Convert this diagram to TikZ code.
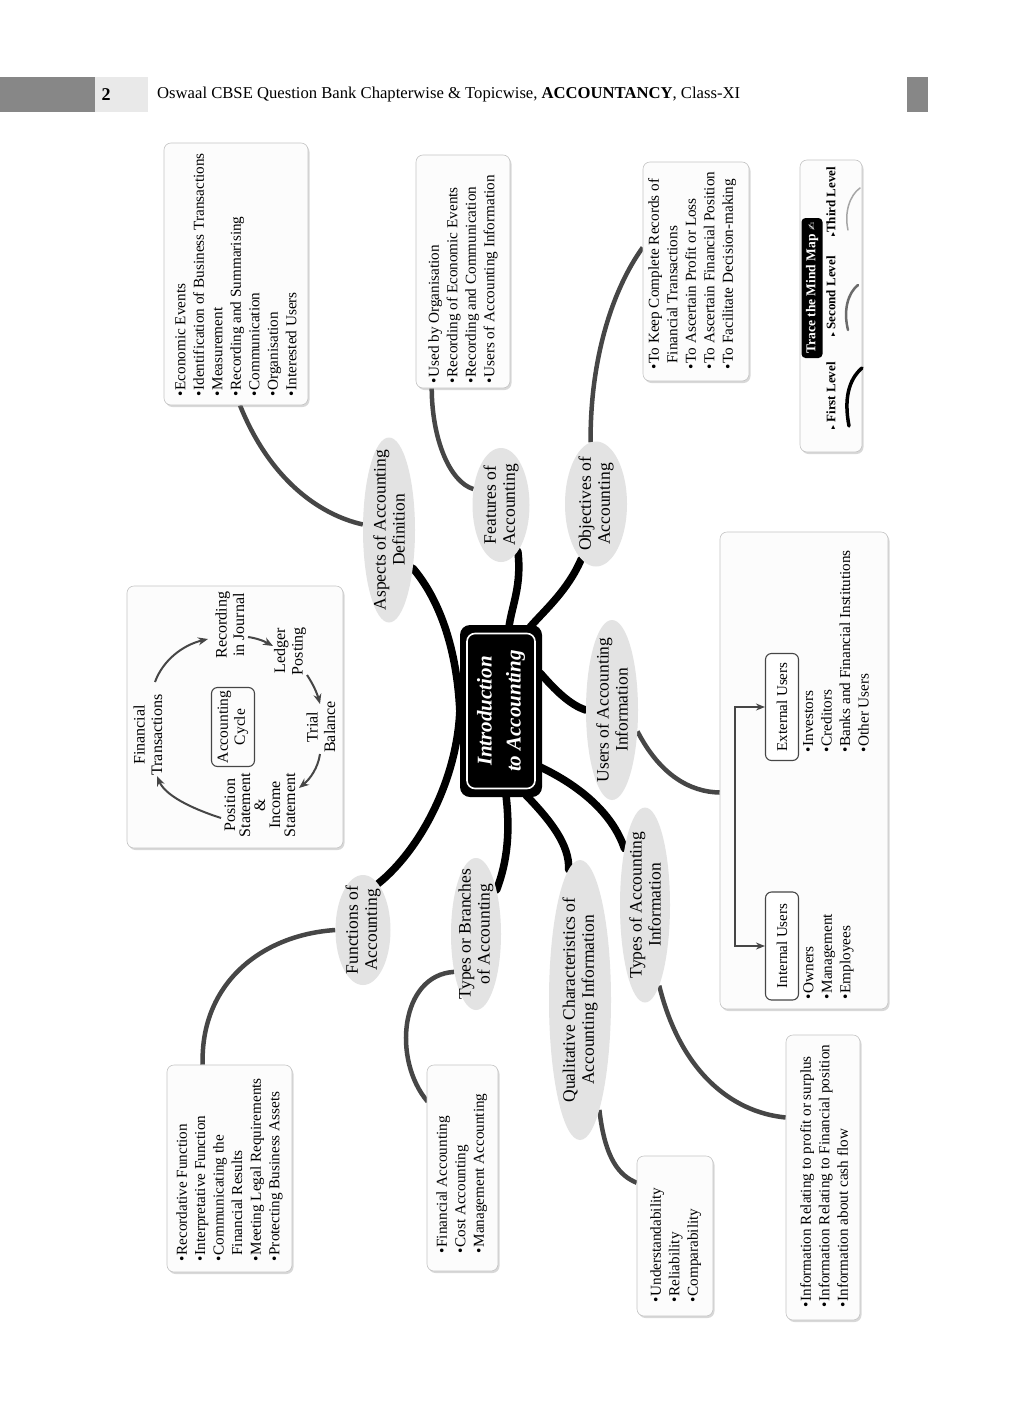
\documentclass[tikz,border=0pt]{standalone}
\usepackage{fontspec}
\usepackage{graphicx}
\setmainfont{Liberation Serif}
\newfontfamily\dejavu{DejaVu Sans}
\usetikzlibrary{shapes.geometric,arrows.meta,shadows,calc}
\pgfdeclarelayer{bg}
\pgfsetlayers{bg,main}
\definecolor{ellg}{HTML}{E3E3E3}
\definecolor{boxf}{HTML}{FCFCFC}
\definecolor{boxd}{HTML}{C4C4C4}
\definecolor{con}{HTML}{464646}
\definecolor{hdrd}{HTML}{878787}
\definecolor{hdrl}{HTML}{E9E9E9}
\newcommand{\mybul}{\textbullet\hspace{1pt}}
\newcommand{\myind}{\phantom{\textbullet}\hspace{1pt}}
\begin{document}
\begin{tikzpicture}[x=1pt,y=-1pt,
  ell/.style={ellipse, fill=ellg, inner sep=0pt},
  etext/.style={rotate=90, align=center, inner sep=0pt, font=\fontsize{17.5}{19}\selectfont},
  lbox/.style={draw=boxd, fill=boxf, rounded corners=7pt, line width=0.6pt, drop shadow={opacity=0.3, shadow xshift=1.5pt, shadow yshift=-2pt}},
  ltext/.style={rotate=90, anchor=north west, align=left, inner sep=0pt, font=\fontsize{15.2}{18.5}\selectfont},
  ctext/.style={rotate=90, align=center, inner sep=0pt, font=\fontsize{16}{17.5}\selectfont},
  mainln/.style={line width=7.5pt, line cap=round},
  subln/.style={draw=con, line width=4.5pt},
  cyarr/.style={draw=con, line width=2pt, -{Stealth[length=10pt,width=8pt]}},
  uarr/.style={draw=con, line width=1.6pt, -{Stealth[length=9pt,width=7pt]}},
  tagbox/.style={draw=con, fill=white, line width=1.1pt, rounded corners=6pt, rotate=90, inner sep=0pt, font=\fontsize{15}{16}\selectfont},
  lvl/.style={rotate=90, anchor=west, inner sep=0pt, font=\fontsize{13}{14}\selectfont\bfseries},
]
\useasboundingbox (0,0) rectangle (1024,1408);
\begin{pgfonlayer}{bg}
\fill[white] (0,0) rectangle (1024,1408);
\end{pgfonlayer}

% header
\fill[hdrd] (0,77) rectangle (95,112);
\fill[hdrl] (95,77) rectangle (148,112);
\fill[hdrd] (907,77) rectangle (928,112);
\node[font=\fontsize{18}{18}\selectfont\bfseries] (pg) at (106,95) {2};
\node[anchor=west, inner sep=0pt] (hdr) at (157,95) {\resizebox{583pt}{11.5pt}{Oswaal CBSE Question Bank Chapterwise \& Topicwise, \textbf{ACCOUNTANCY}, Class-XI}};

% central node
\node[fill=black, rounded corners=10pt, minimum width=82pt, minimum height=172pt] (c) at (501,711) {};
\node[fill=black, draw=white, line width=1.6pt, rounded corners=8pt, minimum width=68pt, minimum height=155pt] (ci) at (501,711) {};
\node[rotate=90, text=white, align=center, inner sep=0pt, font=\fontsize{21}{29}\selectfont\bfseries\itshape] (cT) at (c) {Introduction\\to Accounting};

% first-level ellipses
\node[ell, minimum width=52pt, minimum height=185pt] (asp) at (389,530) {};
\node[etext] (aspT) at (asp) {Aspects of Accounting\\Definition};
\node[ell, minimum width=57pt, minimum height=114pt] (fea) at (501,505) {};
\node[etext] (feaT) at (fea) {Features of\\Accounting};
\node[ell, minimum width=62pt, minimum height=125pt] (obj) at (596,504) {};
\node[etext] (objT) at (obj) {Objectives of\\Accounting};
\node[ell, minimum width=52pt, minimum height=180pt] (usr) at (612,710) {};
\node[etext] (usrT) at (usr) {Users of Accounting\\Information};
\node[ell, minimum width=50pt, minimum height=195pt] (tai) at (645,905) {};
\node[etext] (taiT) at (tai) {Types of Accounting\\Information};
\node[ell, minimum width=62pt, minimum height=280pt] (qua) at (580,1000) {};
\node[etext] (quaT) at (qua) {Qualitative Characteristics of\\Accounting Information};
\node[ell, minimum width=50pt, minimum height=152pt] (tob) at (476,934) {};
\node[etext] (tobT) at (tob) {Types or Branches\\of Accounting};
\node[ell, minimum width=55pt, minimum height=110pt] (fun) at (363,930) {};
\node[etext] (funT) at (fun) {Functions of\\Accounting};

% list boxes
\node[lbox, minimum width=144pt, minimum height=262pt] (box1) at (236,274) {};
\node[ltext] (box1T) at (175,397) {\mybul Economic Events\\\mybul Identification of Business Transactions\\\mybul Measurement\\\mybul Recording and Summarising\\\mybul Communication\\\mybul Organisation\\\mybul Interested Users};
\node[lbox, minimum width=94pt, minimum height=233pt] (box2) at (463,271.5) {};
\node[ltext] (box2T) at (428,384) {\mybul Used by Organisation\\\mybul Recording of Economic Events\\\mybul Recording and Communication\\\mybul Users of Accounting Information};
\node[lbox, minimum width=106pt, minimum height=219pt] (box3) at (696,271.5) {};
\node[ltext] (box3T) at (648,370) {\mybul To Keep Complete Records of\\\myind Financial Transactions\\\mybul To Ascertain Profit or Loss\\\mybul To Ascertain Financial Position\\\mybul To Facilitate Decision-making};
\node[lbox, minimum width=125pt, minimum height=207pt] (fbox) at (229.5,1168.5) {};
\node[ltext] (fboxT) at (176,1262) {\mybul Recordative Function\\\mybul Interpretative Function\\\mybul Communicating the\\\myind Financial Results\\\mybul Meeting Legal Requirements\\\mybul Protecting Business Assets};
\node[lbox, minimum width=71pt, minimum height=206pt] (bbox) at (462.5,1168) {};
\node[ltext] (bboxT) at (436,1254) {\mybul Financial Accounting\\\mybul Cost Accounting\\\mybul Management Accounting};
\node[lbox, minimum width=76pt, minimum height=160pt] (qbox) at (675,1236) {};
\node[ltext] (qboxT) at (650,1303) {\mybul Understandability\\\mybul Reliability\\\mybul Comparability};
\node[lbox, minimum width=74pt, minimum height=285pt] (tbox) at (823,1177.5) {};
\node[ltext] (tboxT) at (800,1308) {\mybul Information Relating to profit or surplus\\\mybul Information Relating to Financial position\\\mybul Information about cash flow};

% users box
\node[lbox, minimum width=168pt, minimum height=477pt] (usersbox) at (804,770.5) {};
\node[tagbox, minimum width=107pt, minimum height=33pt] (ext) at (782,707) {External Users};
\node[tagbox, minimum width=108pt, minimum height=33pt] (int) at (782,946) {Internal Users};
\node[ltext] (extT) at (803,753) {\mybul Investors\\\mybul Creditors\\\mybul Banks and Financial Institutions\\\mybul Other Users};
\node[ltext] (intT) at (803,1000) {\mybul Owners\\\mybul Management\\\mybul Employees};
\coordinate (ujoin) at (735,830);
\draw[uarr] (ujoin) |- (ext.north);
\draw[uarr] (ujoin) |- (int.north);

% accounting cycle box
\node[lbox, minimum width=216pt, minimum height=262pt] (cyc) at (235,717) {};
\node[ctext] (ft) at (148,735) {Financial\\Transactions};
\node[ctext] (rj) at (230,625) {Recording\\in Journal};
\node[ctext] (lp) at (290,651) {Ledger\\Posting};
\node[ctext] (tb) at (321,727) {Trial\\Balance};
\node[ctext, font=\fontsize{16}{15}\selectfont] (ps) at (260,805) {Position\\Statement\\\&\\Income\\Statement};
\node[ctext, draw=con, line width=1.1pt, rounded corners=6pt, minimum width=79pt, minimum height=43pt, font=\fontsize{15.5}{17}\selectfont] (ac) at (233,727) {Accounting\\Cycle};
\draw[cyarr] (155,682) .. controls (163,660) and (183,645) .. (208,639);
\draw[cyarr] (248,637) .. controls (256,638) and (264,641) .. (273,646);
\draw[cyarr] (307,675) .. controls (313,684) and (317,693) .. (320,704);
\draw[cyarr] (320,754) .. controls (318,768) and (310,779) .. (299,788);
\draw[cyarr] (221,818) .. controls (190,808) and (165,795) .. (157,776);

% legend
\node[lbox, minimum width=62pt, minimum height=292pt] (leg) at (831,306) {};
\node[fill=black, rounded corners=4pt, rotate=90, text=white, inner sep=1pt, minimum width=140pt, minimum height=21pt, font=\fontsize{13.5}{14}\selectfont\bfseries] (legT) at (812,288) {Trace the Mind Map {\dejavu\fontsize{10}{10}\selectfont ✍}};
\node[lvl] (l1) at (831,430) {{\dejavu\fontsize{8}{8}\selectfont ▸} First Level};
\node[lvl] (l2) at (831,337) {{\dejavu\fontsize{8}{8}\selectfont ▸} Second Level};
\node[lvl] (l3) at (831,237) {{\dejavu\fontsize{8}{8}\selectfont ▸}Third Level};
\draw[line width=3.5pt, line cap=round] (849,426) .. controls (844,400) and (848,380) .. (862,368);
\draw[con!80, line width=2.5pt, line cap=round] (848,330) .. controls (843,310) and (848,293) .. (858,285);
\draw[gray!70, line width=1.5pt, line cap=round] (848,230) .. controls (844,212) and (850,195) .. (860,188);

% connectors
\begin{pgfonlayer}{bg}
\draw[mainln] (asp.-58) .. controls (440,600) and (457,650) .. (c.west);
\draw[mainln] (c.west) .. controls (457,780) and (420,850) .. (fun.72);
\draw[mainln] (fea.-70) .. controls (522,585) and (512,605) .. ($(c.north)+(8,2)$);
\draw[mainln] (obj.-105) .. controls (568,590) and (545,610) .. ($(c.north east)+(-12,2)$);
\draw[mainln] ($(c.east)+(-2,-38)$) .. controls (555,690) and (570,705) .. (usr.west);
\draw[mainln] ($(c.east)+(-2,56)$) .. controls (578,785) and (612,812) .. (tai.110);
\draw[mainln] ($(c.south)+(25,-2)$) .. controls (550,820) and (570,845) .. (qua.95);
\draw[mainln] ($(c.south)+(5,-2)$) .. controls (510,830) and (508,860) .. (tob.65);

\draw[subln] ($(box1.south)+(4,0)$) .. controls (270,480) and (320,515) .. (asp.168);
\draw[subln] ($(box2.south west)+(16,0)$) .. controls (432,440) and (450,482) .. (fea.150);
\draw[subln] (obj.95) .. controls (590,360) and (612,290) .. ($(box3.west)+(0,-24)$);
\draw[subln] (usr.-40) .. controls (660,775) and (690,792) .. ($(usersbox.west)+(0,22)$);
\draw[subln] (tai.-80) .. controls (680,1070) and (730,1112) .. ($(tbox.west)+(0,-60)$);
\draw[subln] (qua.-80) .. controls (605,1160) and (620,1176) .. ($(qbox.north west)+(0,27)$);
\draw[subln] (tob.-120) .. controls (400,975) and (392,1060) .. ($(bbox.north west)+(1,37)$);
\draw[subln] (fun.west) .. controls (260,935) and (200,985) .. ($(fbox.north west)+(36,0)$);
\end{pgfonlayer}
\end{tikzpicture}
\end{document}
